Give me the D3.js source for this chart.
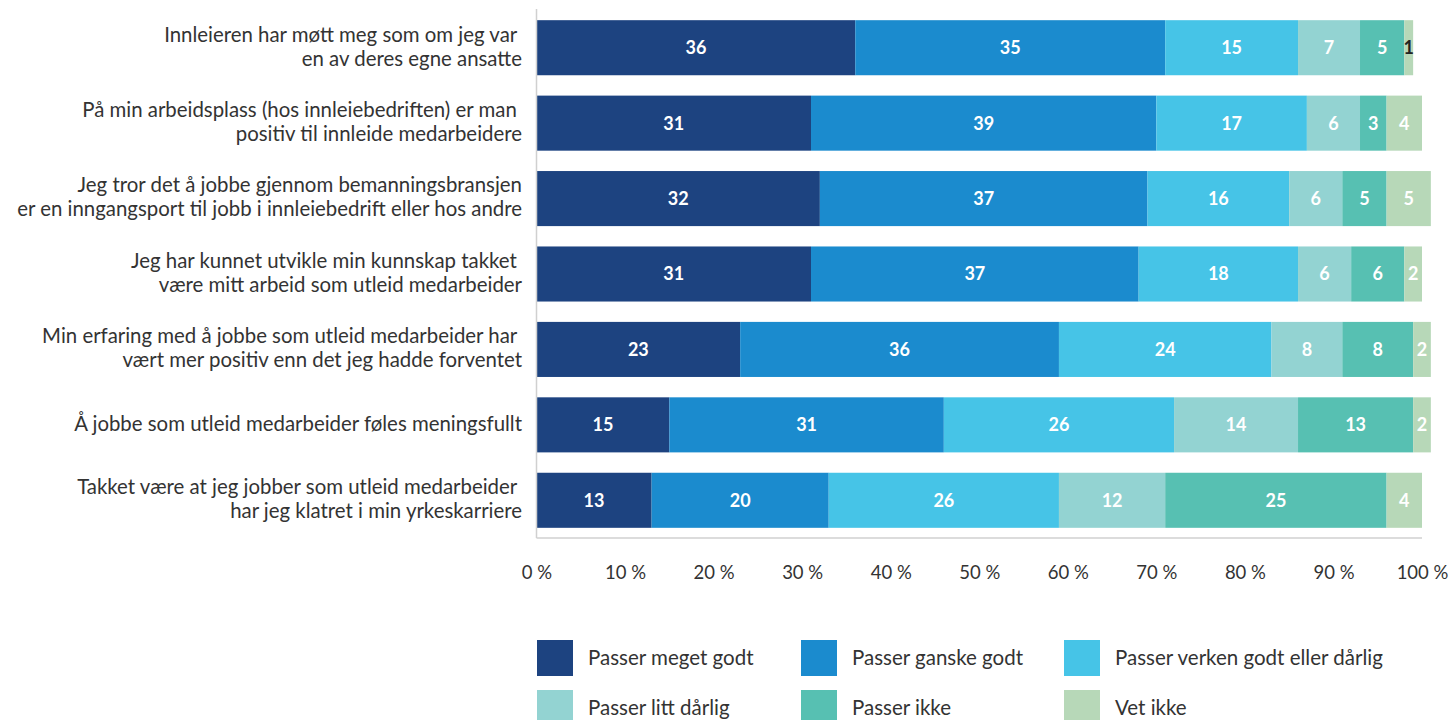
<!DOCTYPE html>
<html>
<head>
<meta charset="utf-8">
<script src="https://cdn.jsdelivr.net/npm/d3@7"></script>
<style>
  html, body { margin: 0; padding: 0; background: #fff; }
  svg text { font-family: Lato, "Open Sans", sans-serif; }
</style>
</head>
<body>
<svg id="chart" width="1451" height="720"></svg>
<script>
// Statements (each split into display lines)
const statements = [
  ["Innleieren har møtt meg som om jeg var ", "en av deres egne ansatte"],
  ["På min arbeidsplass (hos innleiebedriften) er man ", "positiv til innleide medarbeidere"],
  ["Jeg tror det å jobbe gjennom bemanningsbransjen", "er en inngangsport til jobb i innleiebedrift eller hos andre"],
  ["Jeg har kunnet utvikle min kunnskap takket ", "være mitt arbeid som utleid medarbeider"],
  ["Min erfaring med å jobbe som utleid medarbeider har ", "vært mer positiv enn det jeg hadde forventet"],
  ["Å jobbe som utleid medarbeider føles meningsfullt"],
  ["Takket være at jeg jobber som utleid medarbeider ", "har jeg klatret i min yrkeskarriere"]
];

// Response categories
const responses = [
  "Passer meget godt",
  "Passer ganske godt",
  "Passer verken godt eller dårlig",
  "Passer litt dårlig",
  "Passer ikke",
  "Vet ikke"
];

// Percent per response category, one value per statement
const meget   = [36, 31, 32, 31, 23, 15, 13];
const ganske  = [35, 39, 37, 37, 36, 31, 20];
const verken  = [15, 17, 16, 18, 24, 26, 26];
const litt    = [7, 6, 6, 6, 8, 14, 12];
const ikke    = [5, 3, 5, 6, 8, 13, 25];
const vetIkke = [1, 4, 5, 2, 2, 2, 4];

const tickValues = [0, 10, 20, 30, 40, 50, 60, 70, 80, 90, 100];

const colors = ["#1d4380", "#1b8bce", "#46c4e7", "#93d3d2", "#57c0b2", "#b7d8b8"];

const series = [meget, ganske, verken, litt, ikke, vetIkke];

const rows = statements.map((s, i) => {
  const r = { key: i };
  responses.forEach((k, j) => { r[k] = series[j][i]; });
  return r;
});

const stacked = d3.stack().keys(responses)(rows);

const svg = d3.select("#chart");

const x = d3.scaleLinear().domain([0, 100]).range([536.5, 1422]);
const y = d3.scaleBand()
  .domain(d3.range(statements.length))
  .range([10, 538])
  .paddingInner(0.27)
  .paddingOuter(0.135);

const color = d3.scaleOrdinal().domain(responses).range(colors);

// Bars
const layers = svg.append("g")
  .selectAll("g")
  .data(stacked)
  .join("g")
  .attr("fill", d => color(d.key));

layers.selectAll("rect")
  .data(d => d.map(p => ({ p, key: d.key })))
  .join("rect")
  .attr("x", d => x(d.p[0]))
  .attr("y", (d, i) => y(i))
  .attr("width", d => x(d.p[1]) - x(d.p[0]))
  .attr("height", y.bandwidth());

// Value labels
layers.selectAll("text")
  .data(d => d.map(p => ({ p, key: d.key })))
  .join("text")
  .attr("x", d => (x(d.p[0]) + x(d.p[1])) / 2)
  .attr("y", (d, i) => y(i) + y.bandwidth() / 2)
  .attr("dy", "0.36em")
  .attr("text-anchor", "middle")
  .attr("font-size", 18)
  .attr("font-weight", 700)
  .attr("fill", d => (d.p[1] - d.p[0]) < 2 ? "#222" : "#fff")
  .text(d => d.p[1] - d.p[0]);

// Axis lines
svg.append("line")
  .attr("x1", x(0)).attr("x2", x(0))
  .attr("y1", 9).attr("y2", 538)
  .attr("stroke", "#d0d0d0").attr("stroke-width", 1.5);
svg.append("line")
  .attr("x1", x(0)).attr("x2", x(100))
  .attr("y1", 538).attr("y2", 538)
  .attr("stroke", "#d0d0d0").attr("stroke-width", 1.5);

// X tick labels
const xAxis = d3.axisBottom(x)
  .tickValues(tickValues)
  .tickSize(0)
  .tickPadding(0)
  .tickFormat(d => d + " %");
const gx = svg.append("g")
  .attr("transform", "translate(0,572)")
  .call(xAxis);
gx.select(".domain").remove();
gx.selectAll("text")
  .attr("dy", "0.36em")
  .attr("y", 0)
  .attr("font-size", 18.5)
  .attr("fill", "#333")
  .style("font-family", "Lato, sans-serif");

// Statement labels
const labels = svg.append("g")
  .selectAll("text")
  .data(statements)
  .join("text")
  .attr("text-anchor", "end")
  .attr("font-size", 20.4)
  .attr("fill", "#333")
  .style("white-space", "pre");

labels.each(function(lines, i) {
  const cy = y(i) + y.bandwidth() / 2 - 1.5;
  const lh = 24;
  const t = d3.select(this);
  lines.forEach((line, k) => {
    t.append("tspan")
      .attr("x", 522)
      .attr("y", cy + (k - (lines.length - 1) / 2) * lh)
      .attr("dy", "0.36em")
      .text(line);
  });
});

// Legend
const legendX = [537, 801, 1064];
const legendY = [640, 690];
const legend = svg.append("g")
  .selectAll("g")
  .data(responses)
  .join("g")
  .attr("transform", (d, i) => `translate(${legendX[i % 3]},${legendY[Math.floor(i / 3)]})`);

legend.append("rect")
  .attr("width", 36)
  .attr("height", 36)
  .attr("fill", d => color(d));

legend.append("text")
  .attr("x", 51)
  .attr("y", 18)
  .attr("dy", "0.36em")
  .attr("font-size", 20.5)
  .attr("fill", "#333")
  .text(d => d);
</script>
</body>
</html>
